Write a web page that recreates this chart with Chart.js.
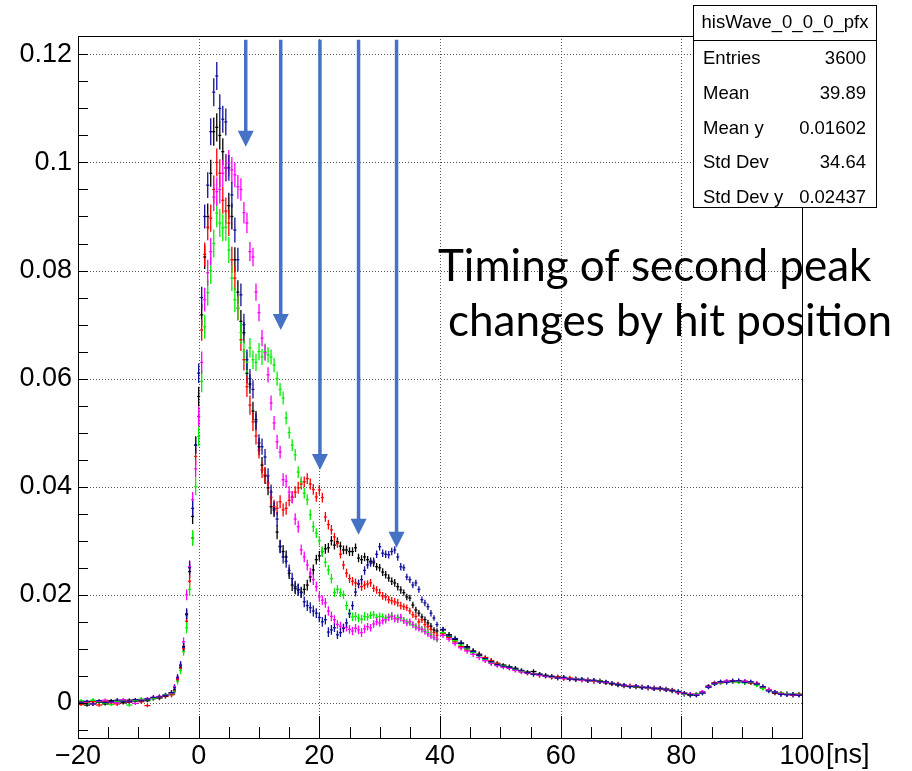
<!DOCTYPE html>
<html>
<head>
<meta charset="utf-8">
<script src="https://cdn.jsdelivr.net/npm/chart.js@4/dist/chart.umd.min.js"></script>
<style>
  html, body { margin: 0; padding: 0; background: #fff; }
  #wrap { width: 912px; height: 771px; }
</style>
</head>
<body>
<div id="wrap"><canvas id="myChart" width="912" height="771"></canvas></div>
<script>
// bin centres [ns]: 1 ns bins outside the pulse, 0.5 ns bins from -4 to 40
const timeNs = [
  -19.5, -18.5, -17.5, -16.5, -15.5, -14.5, -13.5, -12.5, -11.5, -10.5, -9.5, -8.5, -7.5, -6.5, -5.5, -4.5,
  -4, -3.5, -3, -2.5, -2, -1.5, -1, -0.5, 0, 0.5,
  1, 1.5, 2, 2.5, 3, 3.5, 4, 4.5, 5, 5.5,
  6, 6.5, 7, 7.5, 8, 8.5, 9, 9.5, 10, 10.5,
  11, 11.5, 12, 12.5, 13, 13.5, 14, 14.5, 15, 15.5,
  16, 16.5, 17, 17.5, 18, 18.5, 19, 19.5, 20, 20.5,
  21, 21.5, 22, 22.5, 23, 23.5, 24, 24.5, 25, 25.5,
  26, 26.5, 27, 27.5, 28, 28.5, 29, 29.5, 30, 30.5,
  31, 31.5, 32, 32.5, 33, 33.5, 34, 34.5, 35, 35.5,
  36, 36.5, 37, 37.5, 38, 38.5, 39, 39.5,
  40.5, 41.5, 42.5, 43.5, 44.5, 45.5, 46.5, 47.5, 48.5, 49.5,
  50.5, 51.5, 52.5, 53.5, 54.5, 55.5, 56.5, 57.5, 58.5, 59.5,
  60.5, 61.5, 62.5, 63.5, 64.5, 65.5, 66.5, 67.5, 68.5, 69.5,
  70.5, 71.5, 72.5, 73.5, 74.5, 75.5, 76.5, 77.5, 78.5, 79.5,
  80.5, 81.5, 82.5, 83.5, 84.5, 85.5, 86.5, 87.5, 88.5, 89.5,
  90.5, 91.5, 92.5, 93.5, 94.5, 95.5, 96.5, 97.5, 98.5, 99.5
];

const blackY = [
  0.0002, -0.0004, 0.0003, 0.0001, -0.0002, 0.0004, 0.0002, 0.0000, 0.0005, 0.0003, 0.0006, 0.0004, 0.0008, 0.0009, 0.0012, 0.0016,
  0.0024, 0.0045, 0.0066, 0.0104, 0.0163, 0.0243, 0.0345, 0.0477, 0.0567, 0.0718,
  0.0825, 0.0900, 0.0980, 0.1057, 0.1065, 0.1050, 0.1020, 0.0990, 0.0920, 0.0900,
  0.0820, 0.0760, 0.0706, 0.0685, 0.0610, 0.0590, 0.0540, 0.0524, 0.0474, 0.0440,
  0.0420, 0.0398, 0.0363, 0.0357, 0.0316, 0.0289, 0.0280, 0.0270, 0.0240, 0.0218,
  0.0212, 0.0209, 0.0205, 0.0210, 0.0218, 0.0233, 0.0246, 0.0265, 0.0272, 0.0280,
  0.0285, 0.0287, 0.0300, 0.0292, 0.0298, 0.0290, 0.0283, 0.0283, 0.0280, 0.0280,
  0.0287, 0.0268, 0.0265, 0.0270, 0.0265, 0.0262, 0.0259, 0.0252, 0.0250, 0.0242,
  0.0237, 0.0231, 0.0225, 0.0222, 0.0215, 0.0209, 0.0204, 0.0196, 0.0194, 0.0181,
  0.0172, 0.0166, 0.0159, 0.0154, 0.0148, 0.0142, 0.0135, 0.0133,
  0.0135, 0.0126, 0.0117, 0.0110, 0.0104, 0.0096, 0.0090, 0.0083, 0.0077, 0.0073,
  0.0070, 0.0067, 0.0064, 0.0059, 0.0057, 0.0058, 0.0053, 0.0051, 0.0049, 0.0048,
  0.0047, 0.0045, 0.0045, 0.0042, 0.0043, 0.0040, 0.0041, 0.0037, 0.0035, 0.0033,
  0.0031, 0.0031, 0.0029, 0.0030, 0.0027, 0.0028, 0.0025, 0.0026, 0.0022, 0.0019,
  0.0016, 0.0014, 0.0016, 0.0020, 0.0031, 0.0037, 0.0039, 0.0040, 0.0041, 0.0039,
  0.0040, 0.0037, 0.0034, 0.0028, 0.0024, 0.0018, 0.0016, 0.0017, 0.0014, 0.0016
];

const redY = [
  -0.0003, 0.0001, 0.0002, -0.0004, 0.0003, 0.0000, -0.0002, 0.0004, 0.0001, 0.0006, 0.0002, -0.0005, 0.0009, 0.0010, 0.0013, 0.0015,
  0.0022, 0.0043, 0.0064, 0.0100, 0.0151, 0.0225, 0.0305, 0.0456, 0.0530, 0.0690,
  0.0830, 0.0880, 0.0897, 0.0950, 0.1000, 0.0980, 0.0930, 0.0910, 0.0888, 0.0820,
  0.0786, 0.0730, 0.0672, 0.0635, 0.0585, 0.0551, 0.0520, 0.0494, 0.0468, 0.0431,
  0.0422, 0.0407, 0.0380, 0.0363, 0.0360, 0.0372, 0.0357, 0.0360, 0.0375, 0.0381,
  0.0390, 0.0398, 0.0405, 0.0409, 0.0415, 0.0405, 0.0395, 0.0381, 0.0394, 0.0380,
  0.0344, 0.0330, 0.0320, 0.0307, 0.0295, 0.0275, 0.0255, 0.0240, 0.0230, 0.0225,
  0.0222, 0.0220, 0.0215, 0.0218, 0.0220, 0.0222, 0.0212, 0.0209, 0.0204, 0.0198,
  0.0196, 0.0191, 0.0189, 0.0187, 0.0185, 0.0180, 0.0178, 0.0176, 0.0170, 0.0163,
  0.0160, 0.0150, 0.0154, 0.0145, 0.0141, 0.0136, 0.0130, 0.0125,
  0.0128, 0.0121, 0.0113, 0.0104, 0.0098, 0.0094, 0.0088, 0.0084, 0.0078, 0.0073,
  0.0069, 0.0065, 0.0061, 0.0058, 0.0055, 0.0054, 0.0051, 0.0050, 0.0047, 0.0048,
  0.0045, 0.0046, 0.0043, 0.0043, 0.0041, 0.0040, 0.0040, 0.0038, 0.0036, 0.0035,
  0.0032, 0.0032, 0.0030, 0.0029, 0.0028, 0.0026, 0.0027, 0.0024, 0.0024, 0.0020,
  0.0018, 0.0016, 0.0015, 0.0019, 0.0030, 0.0036, 0.0037, 0.0039, 0.0039, 0.0040,
  0.0039, 0.0037, 0.0036, 0.0029, 0.0024, 0.0019, 0.0018, 0.0016, 0.0015, 0.0016
];

const greenY = [
  0.0004, -0.0001, 0.0005, 0.0002, 0.0000, -0.0003, 0.0003, 0.0005, -0.0004, 0.0004, 0.0007, 0.0006, 0.0008, 0.0011, 0.0015, 0.0017,
  0.0020, 0.0040, 0.0060, 0.0095, 0.0139, 0.0210, 0.0305, 0.0400, 0.0493, 0.0595,
  0.0696, 0.0759, 0.0800, 0.0850, 0.0906, 0.0888, 0.0879, 0.0880, 0.0838, 0.0786,
  0.0746, 0.0730, 0.0685, 0.0650, 0.0630, 0.0657, 0.0635, 0.0630, 0.0650, 0.0640,
  0.0650, 0.0644, 0.0640, 0.0625, 0.0600, 0.0580, 0.0564, 0.0527, 0.0500, 0.0477,
  0.0459, 0.0427, 0.0409, 0.0388, 0.0376, 0.0348, 0.0326, 0.0314, 0.0300, 0.0280,
  0.0260, 0.0246, 0.0230, 0.0204, 0.0210, 0.0204, 0.0200, 0.0180, 0.0166, 0.0159,
  0.0160, 0.0157, 0.0155, 0.0160, 0.0159, 0.0162, 0.0163, 0.0158, 0.0160, 0.0159,
  0.0157, 0.0159, 0.0161, 0.0156, 0.0158, 0.0157, 0.0153, 0.0150, 0.0148, 0.0144,
  0.0142, 0.0139, 0.0136, 0.0134, 0.0130, 0.0126, 0.0121, 0.0117,
  0.0130, 0.0123, 0.0115, 0.0107, 0.0100, 0.0093, 0.0087, 0.0080, 0.0074, 0.0071,
  0.0069, 0.0066, 0.0062, 0.0058, 0.0056, 0.0053, 0.0052, 0.0049, 0.0048, 0.0046,
  0.0046, 0.0044, 0.0044, 0.0043, 0.0042, 0.0041, 0.0040, 0.0038, 0.0036, 0.0034,
  0.0032, 0.0031, 0.0030, 0.0029, 0.0028, 0.0027, 0.0026, 0.0025, 0.0023, 0.0021,
  0.0016, 0.0015, 0.0016, 0.0018, 0.0029, 0.0035, 0.0037, 0.0038, 0.0039, 0.0039,
  0.0037, 0.0038, 0.0033, 0.0027, 0.0023, 0.0020, 0.0018, 0.0017, 0.0016, 0.0016
];

const magentaY = [
  0.0001, 0.0002, -0.0002, 0.0003, 0.0005, 0.0001, 0.0000, 0.0006, 0.0003, -0.0001, 0.0005, 0.0008, 0.0010, 0.0012, 0.0014, 0.0018,
  0.0030, 0.0046, 0.0070, 0.0113, 0.0200, 0.0252, 0.0376, 0.0433, 0.0530, 0.0630,
  0.0746, 0.0796, 0.0835, 0.0936, 0.0946, 0.0950, 0.0980, 0.0990, 0.0999, 0.0986,
  0.0977, 0.0955, 0.0950, 0.0907, 0.0888, 0.0835, 0.0825, 0.0760, 0.0722, 0.0675,
  0.0648, 0.0607, 0.0555, 0.0518, 0.0483, 0.0464, 0.0413, 0.0410, 0.0390, 0.0380,
  0.0340, 0.0326, 0.0283, 0.0270, 0.0255, 0.0240, 0.0228, 0.0215, 0.0196, 0.0190,
  0.0185, 0.0170, 0.0160, 0.0154, 0.0145, 0.0142, 0.0139, 0.0140, 0.0136, 0.0133,
  0.0138, 0.0135, 0.0130, 0.0137, 0.0141, 0.0139, 0.0146, 0.0150, 0.0148, 0.0152,
  0.0154, 0.0158, 0.0160, 0.0156, 0.0155, 0.0158, 0.0152, 0.0148, 0.0150, 0.0145,
  0.0140, 0.0138, 0.0136, 0.0132, 0.0128, 0.0124, 0.0121, 0.0118,
  0.0125, 0.0118, 0.0110, 0.0102, 0.0096, 0.0090, 0.0084, 0.0078, 0.0073, 0.0069,
  0.0066, 0.0064, 0.0060, 0.0057, 0.0055, 0.0053, 0.0051, 0.0049, 0.0048, 0.0046,
  0.0045, 0.0044, 0.0044, 0.0042, 0.0042, 0.0041, 0.0039, 0.0038, 0.0036, 0.0034,
  0.0032, 0.0031, 0.0031, 0.0029, 0.0028, 0.0027, 0.0026, 0.0025, 0.0023, 0.0020,
  0.0017, 0.0016, 0.0015, 0.0020, 0.0030, 0.0036, 0.0038, 0.0040, 0.0040, 0.0041,
  0.0040, 0.0039, 0.0036, 0.0030, 0.0024, 0.0020, 0.0017, 0.0016, 0.0015, 0.0015
];

const blueY = [
  0.0000, 0.0003, -0.0002, 0.0004, 0.0001, 0.0002, 0.0005, 0.0003, 0.0002, 0.0006, 0.0004, 0.0007, 0.0010, 0.0011, 0.0014, 0.0019,
  0.0028, 0.0047, 0.0070, 0.0103, 0.0165, 0.0250, 0.0360, 0.0477, 0.0610, 0.0750,
  0.0900, 0.0958, 0.1057, 0.1130, 0.1160, 0.1100, 0.1080, 0.1075, 0.0990, 0.0940,
  0.0875, 0.0820, 0.0755, 0.0700, 0.0635, 0.0600, 0.0580, 0.0520, 0.0481, 0.0474,
  0.0455, 0.0420, 0.0390, 0.0360, 0.0340, 0.0290, 0.0270, 0.0262, 0.0245, 0.0230,
  0.0215, 0.0210, 0.0204, 0.0187, 0.0180, 0.0176, 0.0170, 0.0166, 0.0158, 0.0150,
  0.0154, 0.0131, 0.0135, 0.0139, 0.0126, 0.0130, 0.0138, 0.0148, 0.0165, 0.0180,
  0.0205, 0.0220, 0.0228, 0.0245, 0.0255, 0.0259, 0.0262, 0.0275, 0.0289, 0.0277,
  0.0275, 0.0274, 0.0280, 0.0283, 0.0270, 0.0252, 0.0250, 0.0233, 0.0228, 0.0218,
  0.0222, 0.0210, 0.0191, 0.0185, 0.0178, 0.0166, 0.0157, 0.0145,
  0.0136, 0.0124, 0.0119, 0.0111, 0.0102, 0.0095, 0.0088, 0.0082, 0.0076, 0.0071,
  0.0068, 0.0066, 0.0063, 0.0060, 0.0056, 0.0053, 0.0053, 0.0050, 0.0049, 0.0046,
  0.0047, 0.0044, 0.0043, 0.0044, 0.0041, 0.0042, 0.0039, 0.0039, 0.0036, 0.0034,
  0.0033, 0.0030, 0.0031, 0.0028, 0.0029, 0.0026, 0.0027, 0.0024, 0.0023, 0.0021,
  0.0018, 0.0015, 0.0014, 0.0018, 0.0029, 0.0035, 0.0039, 0.0038, 0.0040, 0.0041,
  0.0038, 0.0039, 0.0035, 0.0030, 0.0022, 0.0020, 0.0016, 0.0015, 0.0016, 0.0014
];

// error on the mean per bin (about the same for all five profiles)
const errY = [
  0.0003, 0.0003, 0.0004, 0.0003, 0.0003, 0.0003, 0.0004, 0.0003, 0.0003, 0.0003, 0.0004, 0.0003, 0.0004, 0.0004, 0.0004, 0.0005,
  0.0005, 0.0006, 0.0007, 0.0008, 0.0010, 0.0012, 0.0014, 0.0016, 0.0018, 0.0020,
  0.0022, 0.0024, 0.0025, 0.0026, 0.0026, 0.0026, 0.0025, 0.0025, 0.0024, 0.0024,
  0.0023, 0.0022, 0.0021, 0.0020, 0.0019, 0.0018, 0.0017, 0.0016, 0.0016, 0.0015,
  0.0015, 0.0014, 0.0014, 0.0013, 0.0013, 0.0012, 0.0012, 0.0012, 0.0011, 0.0011,
  0.0011, 0.0011, 0.0010, 0.0010, 0.0010, 0.0010, 0.0010, 0.0009, 0.0009, 0.0009,
  0.0009, 0.0009, 0.0009, 0.0008, 0.0008, 0.0008, 0.0008, 0.0008, 0.0008, 0.0008,
  0.0008, 0.0008, 0.0008, 0.0008, 0.0007, 0.0007, 0.0007, 0.0007, 0.0007, 0.0007,
  0.0007, 0.0007, 0.0007, 0.0007, 0.0007, 0.0007, 0.0006, 0.0006, 0.0006, 0.0006,
  0.0006, 0.0006, 0.0006, 0.0006, 0.0006, 0.0006, 0.0005, 0.0005,
  0.0005, 0.0005, 0.0005, 0.0005, 0.0005, 0.0005, 0.0005, 0.0004, 0.0005, 0.0004,
  0.0004, 0.0004, 0.0004, 0.0004, 0.0004, 0.0004, 0.0004, 0.0004, 0.0004, 0.0004,
  0.0004, 0.0004, 0.0004, 0.0004, 0.0004, 0.0004, 0.0004, 0.0004, 0.0004, 0.0004,
  0.0004, 0.0004, 0.0004, 0.0004, 0.0004, 0.0004, 0.0004, 0.0004, 0.0004, 0.0004,
  0.0004, 0.0004, 0.0004, 0.0004, 0.0004, 0.0004, 0.0004, 0.0004, 0.0004, 0.0004,
  0.0004, 0.0004, 0.0004, 0.0004, 0.0004, 0.0004, 0.0004, 0.0004, 0.0004, 0.0004
];

const xMajorTicks = [-20, 0, 20, 40, 60, 80, 100];
const xTickLabels = ["\u221220", "0", "20", "40", "60", "80", "100"];
const yMajorTicks = [0, 0.02, 0.04, 0.06, 0.08, 0.1, 0.12];
const yTickLabels = ["0", "0.02", "0.04", "0.06", "0.08", "0.1", "0.12"];

// arrows marking the second peak of each profile [ns, value]
const arrowX = [7.8, 13.6, 20.1, 26.5, 32.8];
const arrowTipY = [0.1029, 0.0690, 0.0431, 0.0311, 0.0287];
const arrowTopY = 0.1227;

const statsTitle = "hisWave_0_0_0_pfx";
const statsLabels = ["Entries", "Mean", "Mean y", "Std Dev", "Std Dev y"];
const statsValues = ["3600", "39.89", "0.01602", "34.64", "0.02437"];

const noteLines = ["Timing of second peak", "changes by hit position"];

const toPoints = ys => ys.map((v, i) => ({ x: timeNs[i], y: v }));
const halfBin = i => (timeNs[i] < -4.25 || timeNs[i] > 40) ? 0.5 : 0.25;

const series = [
  { label: "blue", data: blueY, color: "#10109a" },
  { label: "magenta", data: magentaY, color: "#ff00ff" },
  { label: "green", data: greenY, color: "#00ee00" },
  { label: "red", data: redY, color: "#ff0000" },
  { label: "black", data: blackY, color: "#000000" },
];

const ROOT_FONT = "'Liberation Sans', Arial, sans-serif";

const rootFrame = {
  id: "rootFrame",
  beforeDatasetsDraw(chart) {
    const { ctx, chartArea: a, scales: { x, y } } = chart;
    ctx.save();
    // dotted grid
    ctx.strokeStyle = "#555";
    ctx.lineWidth = 1;
    ctx.setLineDash([1, 2]);
    ctx.beginPath();
    xMajorTicks.slice(1, -1).forEach(v => {
      const px = Math.round(x.getPixelForValue(v)) + 0.5;
      ctx.moveTo(px, a.top); ctx.lineTo(px, a.bottom);
    });
    yMajorTicks.forEach(v => {
      const py = Math.round(y.getPixelForValue(v)) + 0.5;
      ctx.moveTo(a.left, py); ctx.lineTo(a.right, py);
    });
    ctx.stroke();
    ctx.setLineDash([]);
    // vertical error bars
    ctx.lineWidth = 1.3;
    for (let d = chart.data.datasets.length - 1; d >= 0; d--) {
      const ds = chart.data.datasets[d];
      ctx.strokeStyle = ds.borderColor;
      ctx.beginPath();
      ds.data.forEach((p, i) => {
        const px = x.getPixelForValue(p.x);
        ctx.moveTo(px, y.getPixelForValue(p.y - errY[i]));
        ctx.lineTo(px, y.getPixelForValue(p.y + errY[i]));
      });
      ctx.stroke();
    }
    ctx.restore();
  },
  afterDraw(chart) {
    const { ctx, chartArea: a, scales: { x, y } } = chart;
    ctx.save();
    // frame
    ctx.strokeStyle = "#000";
    ctx.lineWidth = 1;
    ctx.strokeRect(a.left + 0.5, a.top + 0.5, a.right - a.left, a.bottom - a.top);
    // ticks, inside the frame
    ctx.beginPath();
    for (let k = -1; k <= 24; k++) {
      const py = Math.round(y.getPixelForValue(k * 0.005)) + 0.5;
      ctx.moveTo(a.left, py); ctx.lineTo(a.left + 10, py);
    }
    for (let t = -20; t <= 100; t += 5) {
      const px = Math.round(x.getPixelForValue(t)) + 0.5;
      const len = t % 20 === 0 ? 22 : 11;
      ctx.moveTo(px, a.bottom); ctx.lineTo(px, a.bottom - len);
    }
    ctx.stroke();
    // axis unit, on the line of the x tick labels
    ctx.fillStyle = "#000";
    ctx.font = "27px " + ROOT_FONT;
    ctx.textBaseline = "alphabetic";
    ctx.textAlign = "left";
    ctx.fillText("[ns]", a.right + 24, 763);

    // arrows
    ctx.fillStyle = "#4472c4";
    ctx.strokeStyle = "#4472c4";
    arrowX.forEach((t, i) => {
      const px = x.getPixelForValue(t);
      const top = y.getPixelForValue(arrowTopY);
      const tip = y.getPixelForValue(arrowTipY[i]);
      ctx.lineWidth = 3.5;
      ctx.beginPath();
      ctx.moveTo(px, top); ctx.lineTo(px, tip - 12);
      ctx.stroke();
      ctx.beginPath();
      ctx.moveTo(px - 8, tip - 16);
      ctx.lineTo(px + 8, tip - 16);
      ctx.lineTo(px, tip);
      ctx.closePath();
      ctx.fill();
    });

    // annotation
    ctx.fillStyle = "#000";
    ctx.font = "44px Lato, 'Open Sans', sans-serif";
    ctx.fillText(noteLines[0], 438, 281);
    ctx.fillText(noteLines[1], 448, 336);

    // stats box
    const bx = 693.5, by = 5.5, bw = 183, bh = 202;
    ctx.fillStyle = "#fff";
    ctx.fillRect(bx, by, bw, bh);
    ctx.strokeStyle = "#000";
    ctx.lineWidth = 1;
    ctx.strokeRect(bx, by, bw, bh);
    ctx.beginPath();
    ctx.moveTo(bx, 40.5); ctx.lineTo(bx + bw, 40.5);
    ctx.stroke();
    ctx.fillStyle = "#000";
    ctx.font = "18.5px " + ROOT_FONT;
    ctx.textBaseline = "middle";
    ctx.textAlign = "center";
    ctx.fillText(statsTitle, bx + bw / 2, 23);
    statsLabels.forEach((lab, i) => {
      const ty = 59 + i * 34.8;
      ctx.textAlign = "left";
      ctx.fillText(lab, 703, ty);
      ctx.textAlign = "right";
      ctx.fillText(statsValues[i], 866, ty);
    });
    ctx.restore();
  }
};

const ctx = document.getElementById("myChart").getContext("2d");
const myChart = new Chart(ctx, {
  type: "scatter",
  data: {
    datasets: series.map(s => ({
      label: s.label,
      data: toPoints(s.data),
      borderColor: s.color,
      backgroundColor: s.color,
      pointStyle: "line",
      pointBorderWidth: 1.3,
      pointRadius: c => halfBin(c.dataIndex) * 6,
      pointHoverRadius: 0,
      showLine: false,
    })),
  },
  options: {
    responsive: false,
    animation: false,
    devicePixelRatio: 1,
    layout: { padding: { left: 0, right: 110, top: 36, bottom: 0 } },
    plugins: { legend: { display: false }, tooltip: { enabled: false } },
    scales: {
      x: {
        type: "linear",
        min: -20,
        max: 100,
        afterBuildTicks: s => { s.ticks = xMajorTicks.map(v => ({ value: v })); },
        afterFit: s => { s.height = 33; },
        grid: { display: false, drawTicks: false },
        border: { display: false },
        ticks: {
          autoSkip: false,
          maxRotation: 0,
          padding: 2,
          color: "#000",
          font: { family: ROOT_FONT, size: 27 },
          callback: v => xTickLabels[xMajorTicks.indexOf(v)],
        },
      },
      y: {
        type: "linear",
        min: -0.0065,
        max: 0.1234,
        afterBuildTicks: s => { s.ticks = yMajorTicks.map(v => ({ value: v })); },
        afterFit: s => { s.width = 78; },
        grid: { display: false, drawTicks: false },
        border: { display: false },
        ticks: {
          autoSkip: false,
          padding: 6,
          color: "#000",
          font: { family: ROOT_FONT, size: 27 },
          callback: v => yTickLabels[yMajorTicks.indexOf(v)],
        },
      },
    },
  },
  plugins: [rootFrame],
});
</script>
</body>
</html>
